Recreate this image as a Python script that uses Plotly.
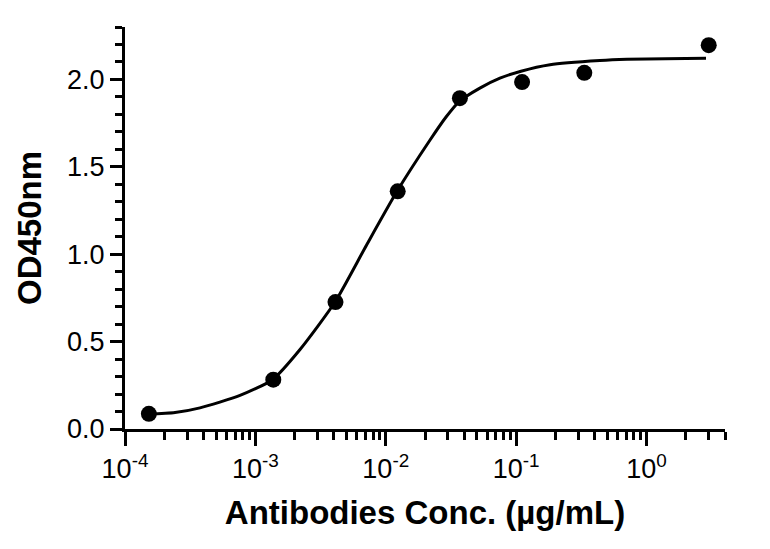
import plotly.graph_objects as go

# Measured data points (concentration in µg/mL, OD450nm)
conc = [0.0001524, 0.001372, 0.004115, 0.01235, 0.03704, 0.1111, 0.3333, 3.0]
od450 = [0.087, 0.282, 0.726, 1.360, 1.893, 1.985, 2.038, 2.196]

# Fitted curve
fit_conc = [0.000148, 0.000242, 0.000376, 0.000762, 0.00135, 0.0022, 0.00407,
            0.00713, 0.0122, 0.0218, 0.029, 0.0364, 0.0527, 0.0751, 0.109,
            0.182, 0.439, 0.708, 1.4, 2.86]
fit_od = [0.083, 0.094, 0.121, 0.192, 0.282, 0.455, 0.725,
          1.053, 1.360, 1.652, 1.785, 1.872, 1.950, 2.007, 2.047,
          2.084, 2.108, 2.115, 2.119, 2.121]

x_tickvals = [1e-4, 1e-3, 1e-2, 1e-1, 1]
x_ticktext = ["10<sup>-4</sup>", "10<sup>-3</sup>", "10<sup>-2</sup>",
              "10<sup>-1</sup>", "10<sup>0</sup>"]

x_minor = []
for dec in [1e-4, 1e-3, 1e-2, 1e-1]:
    x_minor += [m * dec for m in range(2, 10)]
x_minor += [2, 3, 4]

FONT = "Liberation Sans, Arial, sans-serif"

fig = go.Figure()
fig.add_trace(go.Scatter(
    x=fit_conc, y=fit_od, mode="lines",
    line=dict(color="black", width=3, shape="spline", smoothing=0.6),
    showlegend=False, hoverinfo="skip"))
fig.add_trace(go.Scatter(
    x=conc, y=od450, mode="markers",
    marker=dict(color="black", size=16),
    showlegend=False))

# the page body has an 8px margin, so the figure is sized to fit the window
fig.update_layout(
    width=762, height=541,
    margin=dict(l=117, r=45, t=19, b=120),
    paper_bgcolor="white", plot_bgcolor="white",
    font=dict(family=FONT, color="black", size=27),
    xaxis=dict(
        type="log", range=[-4, 0.602],
        showgrid=False, zeroline=False,
        showline=True, linewidth=3, linecolor="black",
        ticks="outside", ticklen=14, tickwidth=3, tickcolor="black",
        tickmode="array", tickvals=x_tickvals, ticktext=x_ticktext,
        tickfont=dict(family=FONT, size=27),
        minor=dict(ticks="outside", ticklen=8, tickwidth=3, tickcolor="black",
                   tickmode="array", tickvals=x_minor, showgrid=False),
        title=dict(text="Antibodies Conc. (µg/mL)",
                   font=dict(family=FONT, size=33, weight=700),
                   standoff=18),
    ),
    yaxis=dict(
        range=[0, 2.3],
        showgrid=False, zeroline=False,
        showline=True, linewidth=3, linecolor="black",
        ticks="outside", ticklen=12, tickwidth=3, tickcolor="black",
        tickmode="linear", tick0=0, dtick=0.5, tickformat=".1f",
        tickfont=dict(family=FONT, size=27),
        minor=dict(ticks="outside", ticklen=7, tickwidth=3, tickcolor="black",
                   tickmode="linear", tick0=0, dtick=0.1, showgrid=False),
        title=dict(text="OD450nm",
                   font=dict(family=FONT, size=33, weight=700),
                   standoff=16),
    ),
)

fig.write_html("out.html")
